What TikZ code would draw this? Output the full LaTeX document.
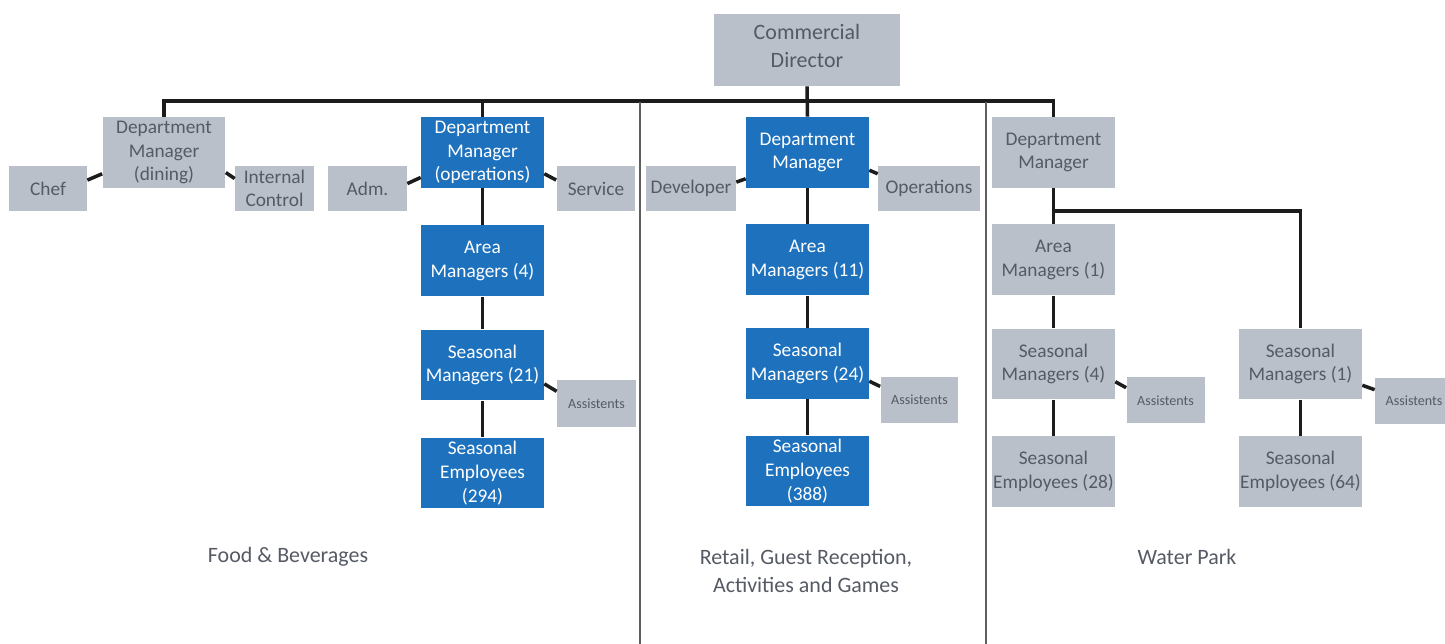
\documentclass[tikz,border=0pt]{standalone}
\usepackage{fontspec}
\setmainfont{Carlito}
\definecolor{boxblue}{RGB}{30,114,189}
\definecolor{boxgray}{RGB}{185,192,201}
\definecolor{textgray}{RGB}{85,90,100}
\definecolor{linedark}{RGB}{28,28,28}
\definecolor{sepgray}{RGB}{95,95,95}
\tikzset{
	graybox/.style={fill=boxgray, text=textgray, align=center, inner sep=0pt,
		minimum width=2.46cm, minimum height=1.42cm, font=\fontsize{11}{13.5}\selectfont},
	bluebox/.style={graybox, fill=boxblue, text=white},
	sidebox/.style={graybox, minimum width=1.58cm, minimum height=0.9cm},
	assistbox/.style={graybox, minimum width=1.56cm, minimum height=0.92cm, font=\fontsize{8}{10}\selectfont},
	link/.style={draw=linedark, line width=2pt},
	divider/.style={draw=sepgray, line width=0.8pt},
	section/.style={text=textgray, align=center, font=\fontsize{12.5}{16}\selectfont}
}
\begin{document}
\begin{tikzpicture}[x=0.02cm, y=-0.02cm]

	\useasboundingbox (0,0) rectangle (1445,644);

	\node[graybox, minimum width=3.72cm, minimum height=1.44cm, font=\fontsize{12.5}{16}\selectfont] (director) at (807,50) {Commercial\\Director\strut};

	\node[graybox] (dining) at (164,152.5) {Department\\Manager\\(dining)};
	\node[sidebox, minimum width=1.56cm] (chef) at (48,188.5) {Chef};
	\node[sidebox] (intctrl) at (274.5,188.5) {Internal\\Control};
	\node[sidebox] (adm) at (367.5,188.5) {Adm.};
	\node[bluebox] (fbdm) at (482.5,152.5) {Department\\Manager\\(operations)};
	\node[sidebox] (service) at (596,188.5) {Service};
	\node[bluebox] (fbarea) at (482.5,261) {Area\\Managers (4)};
	\node[bluebox] (fbsm) at (482.5,365) {Seasonal\\Managers (21)};
	\node[assistbox, minimum width=1.58cm, minimum height=0.94cm] (fbassist) at (596.5,403.5) {Assistents};
	\node[bluebox] (fbse) at (482.5,473) {Seasonal\\Employees\\(294)};

	\node[sidebox, minimum width=1.8cm] (rgdev) at (691,188.5) {Developer};
	\node[bluebox] (rgdm) at (807.5,152.5) {Department\\Manager};
	\node[sidebox, minimum width=2.04cm] (rgops) at (929,188.5) {Operations};
	\node[bluebox] (rgarea) at (807.5,260) {Area\\Managers (11)};
	\node[bluebox] (rgsm) at (807.5,363.5) {Seasonal\\Managers (24)};
	\node[assistbox] (rgassist) at (919.5,400) {Assistents};
	\node[bluebox] (rgse) at (807.5,471) {Seasonal\\Employees\\(388)};

	\node[graybox] (wpdm) at (1053.5,152.5) {Department\\Manager};
	\node[graybox] (wparea) at (1053.5,260) {Area\\Managers (1)};
	\node[graybox] (wpsm) at (1053.5,364) {Seasonal\\Managers (4)};
	\node[assistbox] (wpassist) at (1165.5,400.5) {Assistents};
	\node[graybox] (wpse) at (1053.5,471.5) {Seasonal\\Employees (28)};
	\node[graybox] (wpsmb) at (1300.5,364) {Seasonal\\Managers (1)};
	\node[assistbox] (wpassistb) at (1414,401) {Assistents};
	\node[graybox] (wpseb) at (1300.5,471.5) {Seasonal\\Employees (64)};

	\coordinate (bus) at (807,101);
	\coordinate (wpfork) at (1053,211);

	\draw[link] (dining.north) |- (bus) -| (wpdm.north);
	\draw[link] (director.south) -- (rgdm.north);
	\draw[link] (fbdm.north) -- (fbdm.north |- bus);

	\draw[link] (chef.12) -- (dining.199);
	\draw[link] (dining.-18) -- (intctrl.166);
	\draw[link] (adm.7) -- (fbdm.202);
	\draw[link] (fbdm.-19) -- (service.168);
	\draw[link] (fbdm) -- (fbarea) -- (fbsm) -- (fbse);
	\draw[link] (fbsm.-17) -- (fbassist.163);

	\draw[link] (rgdev.8) -- (rgdm.203);
	\draw[link] (rgdm.-16) -- (rgops.164);
	\draw[link] (rgdm) -- (rgarea) -- (rgsm) -- (rgse);
	\draw[link] (rgsm.-16) -- (rgassist.161);

	\draw[link] (wpdm) -- (wparea) -- (wpsm) -- (wpse);
	\draw[link] (wpfork) -| (wpsmb.north);
	\draw[link] (wpsmb) -- (wpseb);
	\draw[link] (wpsm.-16) -- (wpassist.162);
	\draw[link] (wpsmb.-19) -- (wpassistb.164);

	\coordinate (divtopa) at (640,102);
	\coordinate (divtopb) at (986,102);
	\draw[divider] (divtopa) -- (divtopa |- 0,644);
	\draw[divider] (divtopb) -- (divtopb |- 0,644);

	\node[section] (fblabel) at (288,557) {Food \& Beverages};
	\node[section] (rglabel) at (806,571) {Retail, Guest Reception,\\Activities and Games};
	\node[section] (wplabel) at (1187,557) {Water Park};
\end{tikzpicture}
\end{document}
